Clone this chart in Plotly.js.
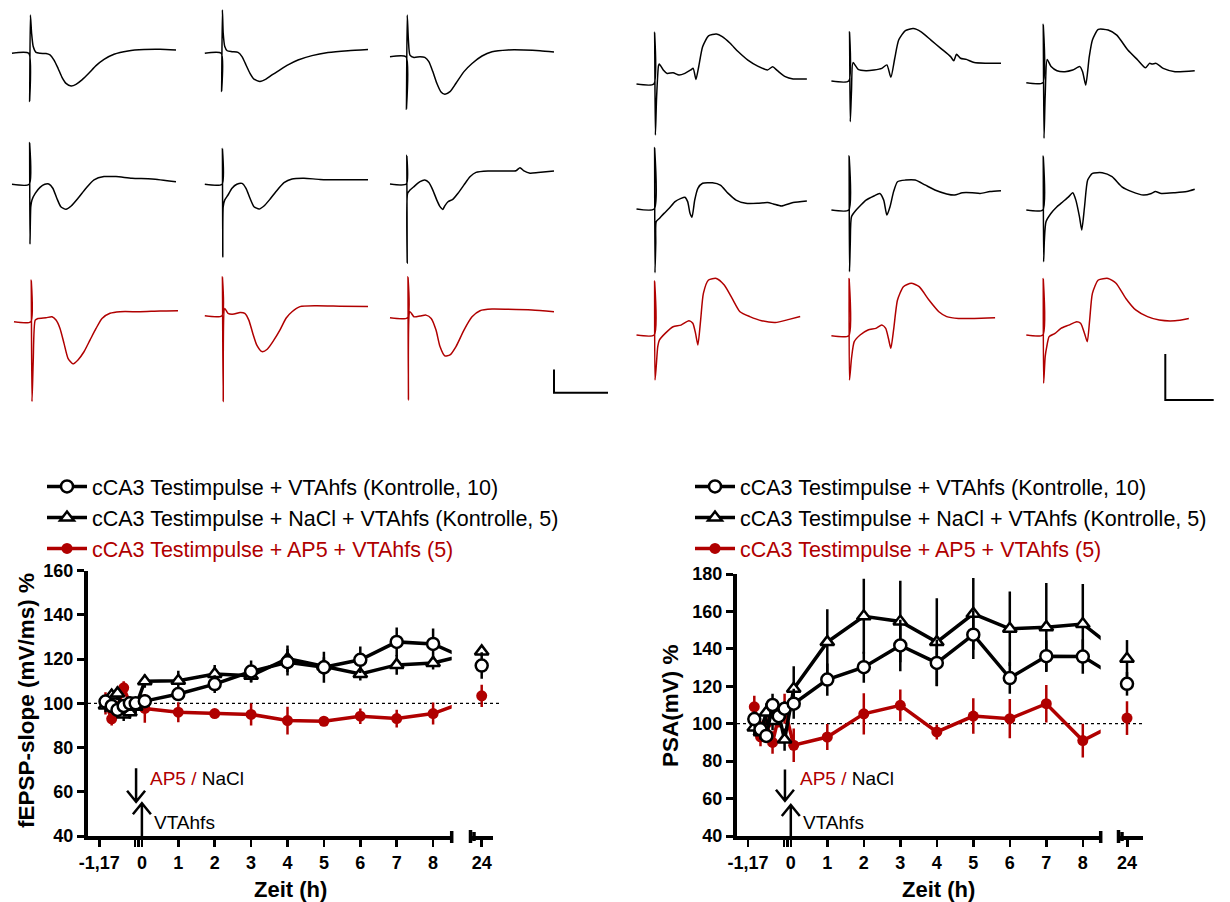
<!DOCTYPE html>
<html><head><meta charset="utf-8">
<script src="https://cdn.plot.ly/plotly-3.0.1.min.js"></script>
<style>html,body{margin:0;padding:0;background:#fff}#chart{width:1230px;height:902px}</style>
</head><body><div id="chart"></div>
<script>
// ================= DATA =================
// time course (h)
const timeBaseline = [-1.0, -0.83, -0.67, -0.5, -0.33, -0.17];
const timePost = [0.08, 1, 2, 3, 4, 5, 6, 7, 8];
const timeLate = [24];
const xTickVals = [-1.17, -0.19, -0.09, 0, 1, 2, 3, 4, 5, 6, 7, 8];
const xTickText = ['-1,17', '', '', '0', '1', '2', '3', '4', '5', '6', '7', '8'];
const lateTickVals = [24];
const lateTickText = ['24'];
const fepspTickVals = [40, 60, 80, 100, 120, 140, 160];
const psaTickVals = [40, 60, 80, 100, 120, 140, 160, 180];

const seriesNames = [
  'cCA3 Testimpulse + VTAhfs (Kontrolle, 10)',
  'cCA3 Testimpulse + NaCl + VTAhfs (Kontrolle, 5)',
  'cCA3 Testimpulse + AP5 + VTAhfs (5)'
];

// fEPSP-slope (mV/ms) %
const fepspKontrolle    = [100.8, 98.8, 97.0, 98.8, 100, 100, 101, 104.2, 108.7, 114.4, 118.6, 116.3, 119.7, 127.8, 126.9, 117.1];
const fepspKontrolleErr = [2, 2, 2.5, 2, 2, 2, 2.5, 3, 4, 5, 6, 7, 6, 6.5, 7, 6];
const fepspNaCl         = [99, 103.5, 104.5, 95, 96, 98.5, 110, 110.2, 113.3, 112.5, 120.2, 116.8, 113.3, 117.4, 118.3, 123.5];
const fepspNaClErr      = [3, 3, 3, 3, 3, 3, 3, 4.5, 4, 3, 6, 4, 3, 4.5, 3, 2];
const fepspAP5          = [100, 93, 98, 107, 100, 99, 97.7, 96, 95.4, 95, 92.2, 91.9, 94.2, 93.1, 95.4, 103.4];
const fepspAP5Err       = [5, 3, 3, 3, 3, 3, 6.5, 4.5, 2, 5, 6.3, 2, 3.5, 4, 5, 5];

// PSA (mV) %
const psaKontrolle    = [102.5, 97, 93.5, 110, 104, 108, 110.7, 123.6, 130.2, 141.8, 132.5, 147.6, 124.4, 136.1, 135.9, 121.3];
const psaKontrolleErr = [4, 3, 3, 6, 4, 4, 8, 8.6, 8.3, 13.8, 12.5, 13, 8.4, 8.5, 9.2, 6.3];
const psaNaCl         = [98, 95.5, 106, 101.5, 105, 91.5, 118.7, 143.6, 157.4, 154.6, 143.6, 158.7, 150.7, 151.6, 153.3, 134.7];
const psaNaClErr      = [4, 4, 5, 5, 5, 6, 12, 17.5, 20, 21.8, 23.5, 19.2, 19.9, 23.6, 21.4, 10];
const psaAP5          = [109, 93, 100, 90, 104, 108, 88.5, 92.9, 105.3, 109.8, 95.6, 104.1, 102.7, 110.7, 91, 103];
const psaAP5Err       = [6, 5, 4, 6, 6, 8, 9, 7, 11, 8.5, 4, 9.5, 10.5, 10, 9, 9];

// example sweeps: time (ms) and amplitude (mV)
const waveL11_t = [0,3.1,3.26,3.41,3.63,3.93,4.44,5.19,6.3,7.04,7.78,8.52,9.26,10,10.96,11.85,12.96,14.22,15.56,17.04,18.89,21.48,24.44,27.41,30.37];
const waveL11_mV = [0,0,-2.07,1.64,0.86,0.29,0.04,0,-0.01,-0.07,-0.29,-0.64,-1.03,-1.29,-1.4,-1.33,-1.14,-0.86,-0.53,-0.26,-0.04,0.1,0.16,0.17,0.14];
const waveL12_t = [0,3.04,3.11,3.26,3.41,3.7,4.15,5.04,6.15,6.89,7.63,8.37,9.11,10.22,11.33,12.44,13.93,15.41,17.26,19.85,22.81,26.52,30.22];
const waveL12_mV = [0,0,-1.64,1.86,0.86,0.29,0.11,0.07,0.04,-0.14,-0.5,-0.86,-1.11,-1.21,-1.11,-0.93,-0.71,-0.5,-0.29,-0.1,0.03,0.11,0.16];
const waveL13_t = [0,2.96,3.04,3.19,3.41,3.7,4.44,5.56,6.44,7.19,7.93,8.67,9.41,10.15,11.11,12.22,13.7,15.19,17.04,18.89,21.85,24.81,27.78,30.37];
const waveL13_mV = [0,0,-2.26,1.79,0.71,0.07,-0.03,0,-0.03,-0.21,-0.64,-1.14,-1.5,-1.61,-1.5,-1.14,-0.64,-0.29,0.03,0.21,0.29,0.29,0.26,0.2];
const waveL21_t = [0,3.19,3.26,3.33,3.48,3.7,4.3,5.19,6.07,6.81,7.56,8.3,9.04,10,10.96,12.22,13.7,15.19,17.04,19.26,22.22,25.93,30.37];
const waveL21_mV = [0,0,1.79,-2.57,-0.96,-0.67,-0.39,-0.13,0,0.01,-0.17,-0.6,-0.96,-1.07,-0.93,-0.6,-0.17,0.19,0.33,0.33,0.26,0.23,0.11];
const waveL22_t = [0,3.19,3.26,3.33,3.41,3.7,4.3,5.04,5.93,6.89,7.63,8.37,9.11,10.07,10.96,12.07,13.19,14.67,16.15,18.37,21.33,25.78,30.22];
const waveL22_mV = [0,0,1.54,-3.13,-0.96,-0.67,-0.46,-0.17,0,0.04,-0.17,-0.6,-0.96,-1.06,-0.93,-0.64,-0.31,0.07,0.23,0.26,0.21,0.19,0.19];
const waveL23_t = [0,3.04,3.11,3.19,3.26,3.7,4.44,5.56,6.44,7.19,7.93,8.67,9.26,9.78,10.15,10.74,11.63,12.59,13.7,14.81,15.93,18.15,21.11,23.33,24.07,24.81,25.93,27.41,30.37];
const waveL23_mV = [0,0,1.23,-3.4,-0.4,-0.26,-0.11,0.1,0.17,0.06,-0.26,-0.69,-0.97,-1.09,-0.94,-0.76,-0.66,-0.4,-0.04,0.31,0.5,0.56,0.56,0.57,0.7,0.56,0.46,0.49,0.56];
const waveL31_t = [0,3.11,3.19,3.33,3.56,3.93,4.44,5.93,7.04,7.78,8.52,9.26,10,10.89,11.85,12.96,14.07,15.19,16.3,17.78,19.63,23.33,27.04,30.37];
const waveL31_mV = [0,0,1.79,-3.43,-1.71,0.07,0.14,0.17,0.21,0.07,-0.29,-0.93,-1.57,-1.81,-1.64,-1.29,-0.79,-0.29,0.14,0.36,0.43,0.43,0.46,0.47];
const waveL32_t = [0,3.19,3.26,3.41,3.7,4.3,5.41,6.52,7.41,8.15,8.89,9.63,10.59,11.56,12.81,13.93,15.04,16.15,17.63,20.59,25.04,30.22];
const waveL32_mV = [0,0,1.67,-3.69,0.31,0.1,0.07,0.14,0.1,-0.19,-0.76,-1.26,-1.54,-1.44,-1.04,-0.61,-0.11,0.17,0.39,0.43,0.41,0.39];
const waveL33_t = [0,3.26,3.33,3.41,3.7,4.44,5.56,6.67,7.63,8.52,9.26,10.15,11.11,12.22,13.7,15.19,16.67,18.89,21.85,26.3,30.37];
const waveL33_mV = [0,0,1.76,-3.53,0.26,0.04,0.07,0.11,-0.03,-0.53,-1.24,-1.64,-1.6,-1.24,-0.53,0.04,0.3,0.37,0.36,0.33,0.26];

const waveR11_t = [0,3.58,3.74,3.9,4.15,4.55,4.72,5.53,6.34,7.56,8.78,10,11.22,11.71,12.28,12.85,13.66,14.88,16.5,17.72,19.35,20.98,23.01,25.04,27.07,28.13,29.11,30.73,32.36,35.2];
const waveR11_mV = [0,0,2.25,-2.22,-0.58,0.8,0.87,0.61,0.46,0.49,0.39,0.46,0.61,0.68,0.2,0.75,1.62,2.09,2.17,2.06,1.77,1.41,1.04,0.78,0.61,0.75,0.58,0.32,0.22,0.22];
const waveR12_t = [0,3.58,3.74,3.9,4.15,4.47,5.53,7.15,8.78,10.41,11.46,12.28,13.09,13.9,15.28,16.91,18.54,20.57,22.6,24.63,25.28,25.85,26.67,27.89,29.51,31.95,35.04];
const waveR12_mV = [0,0,2.14,-1.77,-0.43,0.8,0.51,0.45,0.48,0.55,0.7,0.16,0.99,1.78,2.19,2.28,2.14,1.78,1.42,1.06,0.88,1.16,0.99,0.94,0.8,0.77,0.77];
const waveR13_t = [0,3.41,3.5,3.66,3.9,4.31,5.12,6.34,7.97,9.59,11.06,11.63,12.28,13.01,13.66,14.88,16.91,18.7,20.98,23.01,24.63,25.45,26.02,26.83,28.29,30.73,34.8];
const waveR13_mV = [0,0,2.54,-2.42,-0.58,1.01,0.7,0.52,0.48,0.55,0.7,0.48,-0.1,1.13,1.86,2.32,2.29,2.07,1.42,0.99,0.65,0.84,0.81,0.84,0.62,0.48,0.52];
const waveR21_t = [0,3.66,3.74,3.82,3.98,4.07,4.72,5.69,6.75,7.97,9.19,10,10.57,11.06,11.46,12.03,12.68,13.66,15.69,17.32,18.94,20.57,22.6,25.04,27.07,28.29,29.92,32.36,35.2];
const waveR21_mV = [0,0,2.67,-2.77,-1.49,-0.55,-0.41,-0.19,0.03,0.32,0.46,0.51,0.32,-0.19,-0.36,0.39,0.9,1.12,1.14,1.04,0.68,0.39,0.25,0.25,0.28,0.22,0.13,0.28,0.35];
const waveR22_t = [0,3.58,3.66,3.74,3.9,4.15,5.12,6.1,7.15,8.78,10,10.81,11.46,12.11,12.85,13.66,15.28,17.32,19.35,21.38,23.82,25.45,27.07,29.11,30.73,32.76,35.04];
const waveR22_mV = [0,0,2.36,-2.68,-1.45,-0.29,0,0.22,0.43,0.61,0.72,0.43,-0.22,0.14,0.8,1.23,1.3,1.3,1.09,0.87,0.7,0.65,0.75,0.75,0.72,0.8,0.84];
const waveR23_t = [0,3.41,3.5,3.58,3.74,4.07,5.12,6.34,7.56,8.78,9.59,10.24,10.98,11.46,12.03,12.68,13.66,15.69,17.72,19.76,21.79,24.23,25.85,26.67,27.89,30.73,33.17,34.8];
const waveR23_mV = [0,0,2.35,-2.25,-1.3,-0.51,-0.14,0.14,0.36,0.58,0.75,0.43,-0.29,-0.87,0.14,1.3,1.59,1.62,1.45,1.01,0.8,0.65,0.72,0.8,0.72,0.75,0.8,0.9];
const waveR31_t = [0,3.66,3.74,3.82,4.07,4.39,4.72,5.93,7.56,9.19,10.81,11.63,12.2,12.68,13.25,13.82,14.88,16.5,18.13,19.76,21.38,23.41,25.85,28.7,31.54,33.82];
const waveR31_mV = [0,0,2.35,-1.96,-1.38,-0.51,-0.22,0.07,0.36,0.43,0.62,0.51,0.07,-0.43,0.65,1.81,2.39,2.46,2.17,1.59,1.01,0.8,0.62,0.54,0.68,0.8];
const waveR32_t = [0,3.58,3.66,3.74,4.15,4.72,5.93,7.56,9.19,10.41,11.22,11.79,12.28,12.85,13.66,14.88,16.5,18.13,20.16,22.2,23.82,26.26,29.51,33.82];
const waveR32_mV = [0,0,2.49,-1.93,-0.99,-0.26,0.03,0.25,0.32,0.46,0.32,-0.12,-0.55,0.25,1.55,2.13,2.28,2.13,1.55,1.04,0.83,0.75,0.75,0.78];
const waveR33_t = [0,3.41,3.5,3.58,3.9,4.23,4.72,5.93,7.15,8.78,10.41,11.22,12.03,12.6,13.09,13.66,14.88,16.91,18.54,20.57,22.6,25.04,27.48,30.73,33.58];
const waveR33_mV = [0,0,2.46,-2.1,-0.94,-0.51,-0.07,0.07,0.29,0.43,0.58,0.51,0.07,-0.29,0.65,1.81,2.39,2.46,2.25,1.59,1.09,0.8,0.65,0.62,0.72];

// ================= LAYOUT / STYLE =================
const W = 1230, H = 902;
const RED = '#b00000';
const FONT = '"Liberation Sans", Arial, Helvetica, sans-serif';
const fx = px => px / W;
const fy = py => 1 - py / H;

const traces = [];
const shapes = [];
const annotations = [];
const layout = {
  width: W, height: H,
  margin: {l: 0, r: 0, t: 0, b: 0},
  paper_bgcolor: '#ffffff',
  plot_bgcolor: 'rgba(0,0,0,0)',
  showlegend: true,
  font: {family: FONT, color: '#000'},
  hovermode: false
};

// ---------- example sweeps ----------
const sweepScale = {L: {pxPerMs: 5.4, pxPerMv: 23.3, w: 178}, R: {pxPerMs: 4.84, pxPerMv: 23, w: 182}};
const sweeps = [
  {t: waveL11_t, v: waveL11_mV, blk: 'L', x0: 12,    base: 53.3,  color: '#000'},
  {t: waveL12_t, v: waveL12_mV, blk: 'L', x0: 204.8, base: 53.3,  color: '#000'},
  {t: waveL13_t, v: waveL13_mV, blk: 'L', x0: 390,   base: 56.7,  color: '#000'},
  {t: waveL21_t, v: waveL21_mV, blk: 'L', x0: 12,    base: 184.3, color: '#000'},
  {t: waveL22_t, v: waveL22_mV, blk: 'L', x0: 204.8, base: 184.3, color: '#000'},
  {t: waveL23_t, v: waveL23_mV, blk: 'L', x0: 390,   base: 184,   color: '#000'},
  {t: waveL31_t, v: waveL31_mV, blk: 'L', x0: 14,    base: 321.7, color: RED},
  {t: waveL32_t, v: waveL32_mV, blk: 'L', x0: 204.8, base: 315.7, color: RED},
  {t: waveL33_t, v: waveL33_mV, blk: 'L', x0: 390,   base: 317.7, color: RED},
  {t: waveR11_t, v: waveR11_mV, blk: 'R', x0: 636.5,  base: 84,    color: '#000'},
  {t: waveR12_t, v: waveR12_mV, blk: 'R', x0: 831.4,  base: 81,    color: '#000'},
  {t: waveR13_t, v: waveR13_mV, blk: 'R', x0: 1026.3, base: 82.7,  color: '#000'},
  {t: waveR21_t, v: waveR21_mV, blk: 'R', x0: 636.5,  base: 209,   color: '#000'},
  {t: waveR22_t, v: waveR22_mV, blk: 'R', x0: 831.4,  base: 210,   color: '#000'},
  {t: waveR23_t, v: waveR23_mV, blk: 'R', x0: 1026.3, base: 210,   color: '#000'},
  {t: waveR31_t, v: waveR31_mV, blk: 'R', x0: 636.5,  base: 335,   color: RED},
  {t: waveR32_t, v: waveR32_mV, blk: 'R', x0: 831.4,  base: 335.7, color: RED},
  {t: waveR33_t, v: waveR33_mV, blk: 'R', x0: 1026.3, base: 335,   color: RED}
];
sweeps.forEach((p, i) => {
  const k = i + 5;
  const s = sweepScale[p.blk];
  const a = Math.max(0, p.x0 - 4), b = Math.min(W, p.x0 + s.w);
  const top = Math.max(0, p.base - 75), bot = Math.min(H, p.base + 95);
  layout['xaxis' + k] = {domain: [fx(a), fx(b)], range: [(a - p.x0) / s.pxPerMs, (b - p.x0) / s.pxPerMs],
    visible: false, fixedrange: true, anchor: 'y' + k};
  layout['yaxis' + k] = {domain: [fy(bot), fy(top)], range: [(p.base - bot) / s.pxPerMv, (p.base - top) / s.pxPerMv],
    visible: false, fixedrange: true, anchor: 'x' + k};
  traces.push({x: p.t, y: p.v, xaxis: 'x' + k, yaxis: 'y' + k, type: 'scatter', mode: 'lines',
    line: {color: p.color, width: 1.5, shape: 'spline', smoothing: 0.6}, showlegend: false, hoverinfo: 'skip'});
});
// scale bars (10 ms / 1 mV left, 10 ms / 2 mV right)
const scaleBars = [
  {blk: 'L', ms: 10, mv: 1, x: 554, y: 392.7},
  {blk: 'R', ms: 10, mv: 2, x: 1165.3, y: 400}
];
scaleBars.forEach(sb => {
  const s = sweepScale[sb.blk];
  const wpx = sb.ms * s.pxPerMs, hpx = sb.mv * s.pxPerMv;
  shapes.push({type: 'path', xref: 'paper', yref: 'paper',
    path: `M${fx(sb.x)},${fy(sb.y - hpx)} L${fx(sb.x)},${fy(sb.y)} L${fx(sb.x + wpx)},${fy(sb.y)}`,
    line: {color: '#000', width: 2}});
});

// ---------- time-course charts ----------
const tickFont = {family: FONT, size: 18, color: '#000', weight: 'bold'};
const axisStyle = {showline: true, linewidth: 4, linecolor: '#000', ticks: 'outside', ticklen: 7, tickwidth: 3,
  tickcolor: '#000', showgrid: false, zeroline: false, fixedrange: true, tickfont: tickFont};

const charts = [
  {x: 'x', x2: 'x2', y: 'y', legend: 'legend', axisPx: 88, zeroPx: 141.9, hourPx: 36.4, endPx: 451.7,
   seg: [470, 493], lateTickPx: 481.7, yTopPx: 570.7, yBotPx: 836, yRange: [40, 160], yTicks: fepspTickVals,
   series: [[fepspKontrolle, fepspKontrolleErr], [fepspNaCl, fepspNaClErr], [fepspAP5, fepspAP5Err]],
   yTitle: 'fEPSP-slope (mV/ms) %', yTitlePx: [26, 701], xTitlePx: [290, 889], dottedEnd: 500,
   legendPx: [42, 466],
   down: {t: -0.16, from: 70.7, to: 55.5}, up: {t: 0, from: 40, to: 54.8},
   drug: {t: 0.17, y: 66.2}, hfs: {t: 0.28, y: 45.9}},
  {x: 'x3', x2: 'x4', y: 'y3', legend: 'legend2', axisPx: 737, zeroPx: 790.8, hourPx: 36.5, endPx: 1100.7,
   seg: [1118, 1143], lateTickPx: 1127, yTopPx: 574, yBotPx: 836, yRange: [40, 180], yTicks: psaTickVals,
   series: [[psaKontrolle, psaKontrolleErr], [psaNaCl, psaNaClErr], [psaAP5, psaAP5Err]],
   yTitle: 'PSA(mV) %', yTitlePx: [670, 706], xTitlePx: [938, 889], dottedEnd: 1142,
   legendPx: [690, 466],
   down: {t: -0.16, from: 75.6, to: 58.8}, up: {t: 0, from: 40, to: 56.6},
   drug: {t: 0.2, y: 70.5}, hfs: {t: 0.28, y: 47}}
];

const styles = [
  {symbol: 'circle', size: 12, color: '#fff', line: {color: '#000', width: 2.5}, lc: '#000'},
  {symbol: 'triangle-up', size: 12, color: '#fff', line: {color: '#000', width: 2.5}, lc: '#000'},
  {symbol: 'circle', size: 11, color: RED, line: {color: RED, width: 0}, lc: RED}
];
const drawOrder = [2, 1, 0];
const allTimes = timeBaseline.concat(timePost, timeLate);

charts.forEach(c => {
  const xa = 'xaxis' + c.x.slice(1), xa2 = 'xaxis' + c.x2.slice(1), ya = 'yaxis' + c.y.slice(1);
  const yPxPerUnit = (c.yBotPx - c.yTopPx) / (c.yRange[1] - c.yRange[0]);
  layout[xa] = Object.assign({}, axisStyle, {domain: [fx(c.axisPx), fx(c.endPx)],
    range: [(c.axisPx - c.zeroPx) / c.hourPx, (c.endPx - c.zeroPx) / c.hourPx],
    anchor: c.y, tickmode: 'array', tickvals: xTickVals, ticktext: xTickText, tickwidth: 2.5});
  layout[xa2] = Object.assign({}, axisStyle, {domain: [fx(c.seg[0]), fx(c.seg[1])],
    range: [24 - (c.lateTickPx - c.seg[0]) / c.hourPx, 24 + (c.seg[1] - c.lateTickPx) / c.hourPx],
    anchor: c.y, tickmode: 'array', tickvals: lateTickVals, ticktext: lateTickText});
  layout[ya] = Object.assign({}, axisStyle, {domain: [fy(c.yBotPx), fy(c.yTopPx)], range: c.yRange,
    anchor: c.x, tickmode: 'array', tickvals: c.yTicks});
  // broken axis: where 24 h sits on the compressed main scale (lines run toward it and get clipped)
  const lateOnMain = (c.lateTickPx - c.zeroPx) / c.hourPx;
  const mainX = allTimes.map(t => (t > 20 ? lateOnMain : t));

  drawOrder.forEach(si => {
    const st = styles[si];
    const [vals, errs] = c.series[si];
    const mk = {symbol: st.symbol, size: st.size, color: st.color, line: st.line};
    traces.push({type: 'scatter', mode: 'lines+markers', x: mainX, y: vals, xaxis: c.x, yaxis: c.y,
      name: si === 2 ? `<span style="color:${RED}">${seriesNames[si]}</span>` : seriesNames[si],
      legend: c.legend, legendrank: si + 1,
      line: {color: st.lc, width: 3.5}, marker: mk,
      error_y: {type: 'data', array: errs, visible: true, color: st.lc, thickness: 2.5, width: 0},
      hoverinfo: 'skip'});
    const n = vals.length - 1;
    traces.push({type: 'scatter', mode: 'markers', x: [allTimes[n]], y: [vals[n]], xaxis: c.x2, yaxis: c.y,
      showlegend: false, marker: mk,
      error_y: {type: 'data', array: [errs[n]], visible: true, color: st.lc, thickness: 2.5, width: 0},
      hoverinfo: 'skip'});
  });

  // legend
  layout[c.legend] = {x: fx(c.legendPx[0]), y: fy(c.legendPx[1]), xanchor: 'left', yanchor: 'top',
    bgcolor: 'rgba(0,0,0,0)', font: {family: FONT, size: 21.5, color: '#000'}, itemwidth: 40,
    tracegroupgap: 0, traceorder: 'normal'};

  // dotted 100% line
  shapes.push({type: 'line', xref: 'paper', yref: c.y, x0: fx(c.axisPx), x1: fx(c.dottedEnd), y0: 100, y1: 100,
    line: {color: '#000', width: 1.3, dash: 'dot'}, layer: 'below'});
  // axis break marks
  [[c.endPx, 831, 843], [c.seg[0] + 0.5, 830, 843], [c.seg[0] + 4, 832, 841]].forEach(([bx, y0, y1]) => {
    shapes.push({type: 'line', xref: 'paper', yref: 'paper', x0: fx(bx), x1: fx(bx), y0: fy(y0), y1: fy(y1),
      line: {color: '#000', width: 3.5}});
  });
  // arrows: drug application (down) and VTA HFS (up)
  const hw = 9 / c.hourPx, hh = 11 / yPxPerUnit;
  [c.down, c.up].forEach(a => {
    const sgn = a.from > a.to ? 1 : -1;
    shapes.push({type: 'path', xref: c.x, yref: c.y,
      path: `M${a.t},${a.from} L${a.t},${a.to} M${a.t - hw},${a.to + sgn * hh} L${a.t},${a.to} L${a.t + hw},${a.to + sgn * hh}`,
      line: {color: '#000', width: 2.5}});
  });
  annotations.push({xref: c.x, yref: c.y, x: c.drug.t, y: c.drug.y, xanchor: 'left', yanchor: 'middle',
    showarrow: false, font: {family: FONT, size: 19, color: '#000'},
    text: `<span style="color:${RED}">AP5 /</span> NaCl`});
  annotations.push({xref: c.x, yref: c.y, x: c.hfs.t, y: c.hfs.y, xanchor: 'left', yanchor: 'middle',
    showarrow: false, font: {family: FONT, size: 19, color: '#000'}, text: 'VTAhfs'});
  // axis titles
  annotations.push({xref: 'paper', yref: 'paper', x: fx(c.yTitlePx[0]), y: fy(c.yTitlePx[1]),
    xanchor: 'center', yanchor: 'middle', textangle: -90, showarrow: false,
    font: {family: FONT, size: 22.5, color: '#000', weight: 'bold'}, text: c.yTitle});
  annotations.push({xref: 'paper', yref: 'paper', x: fx(c.xTitlePx[0]), y: fy(c.xTitlePx[1]),
    xanchor: 'center', yanchor: 'middle', showarrow: false,
    font: {family: FONT, size: 22, color: '#000', weight: 'bold'}, text: 'Zeit (h)'});
});

layout.shapes = shapes;
layout.annotations = annotations;
Plotly.newPlot('chart', traces, layout, {displayModeBar: false, staticPlot: true});
</script>
</body></html>
